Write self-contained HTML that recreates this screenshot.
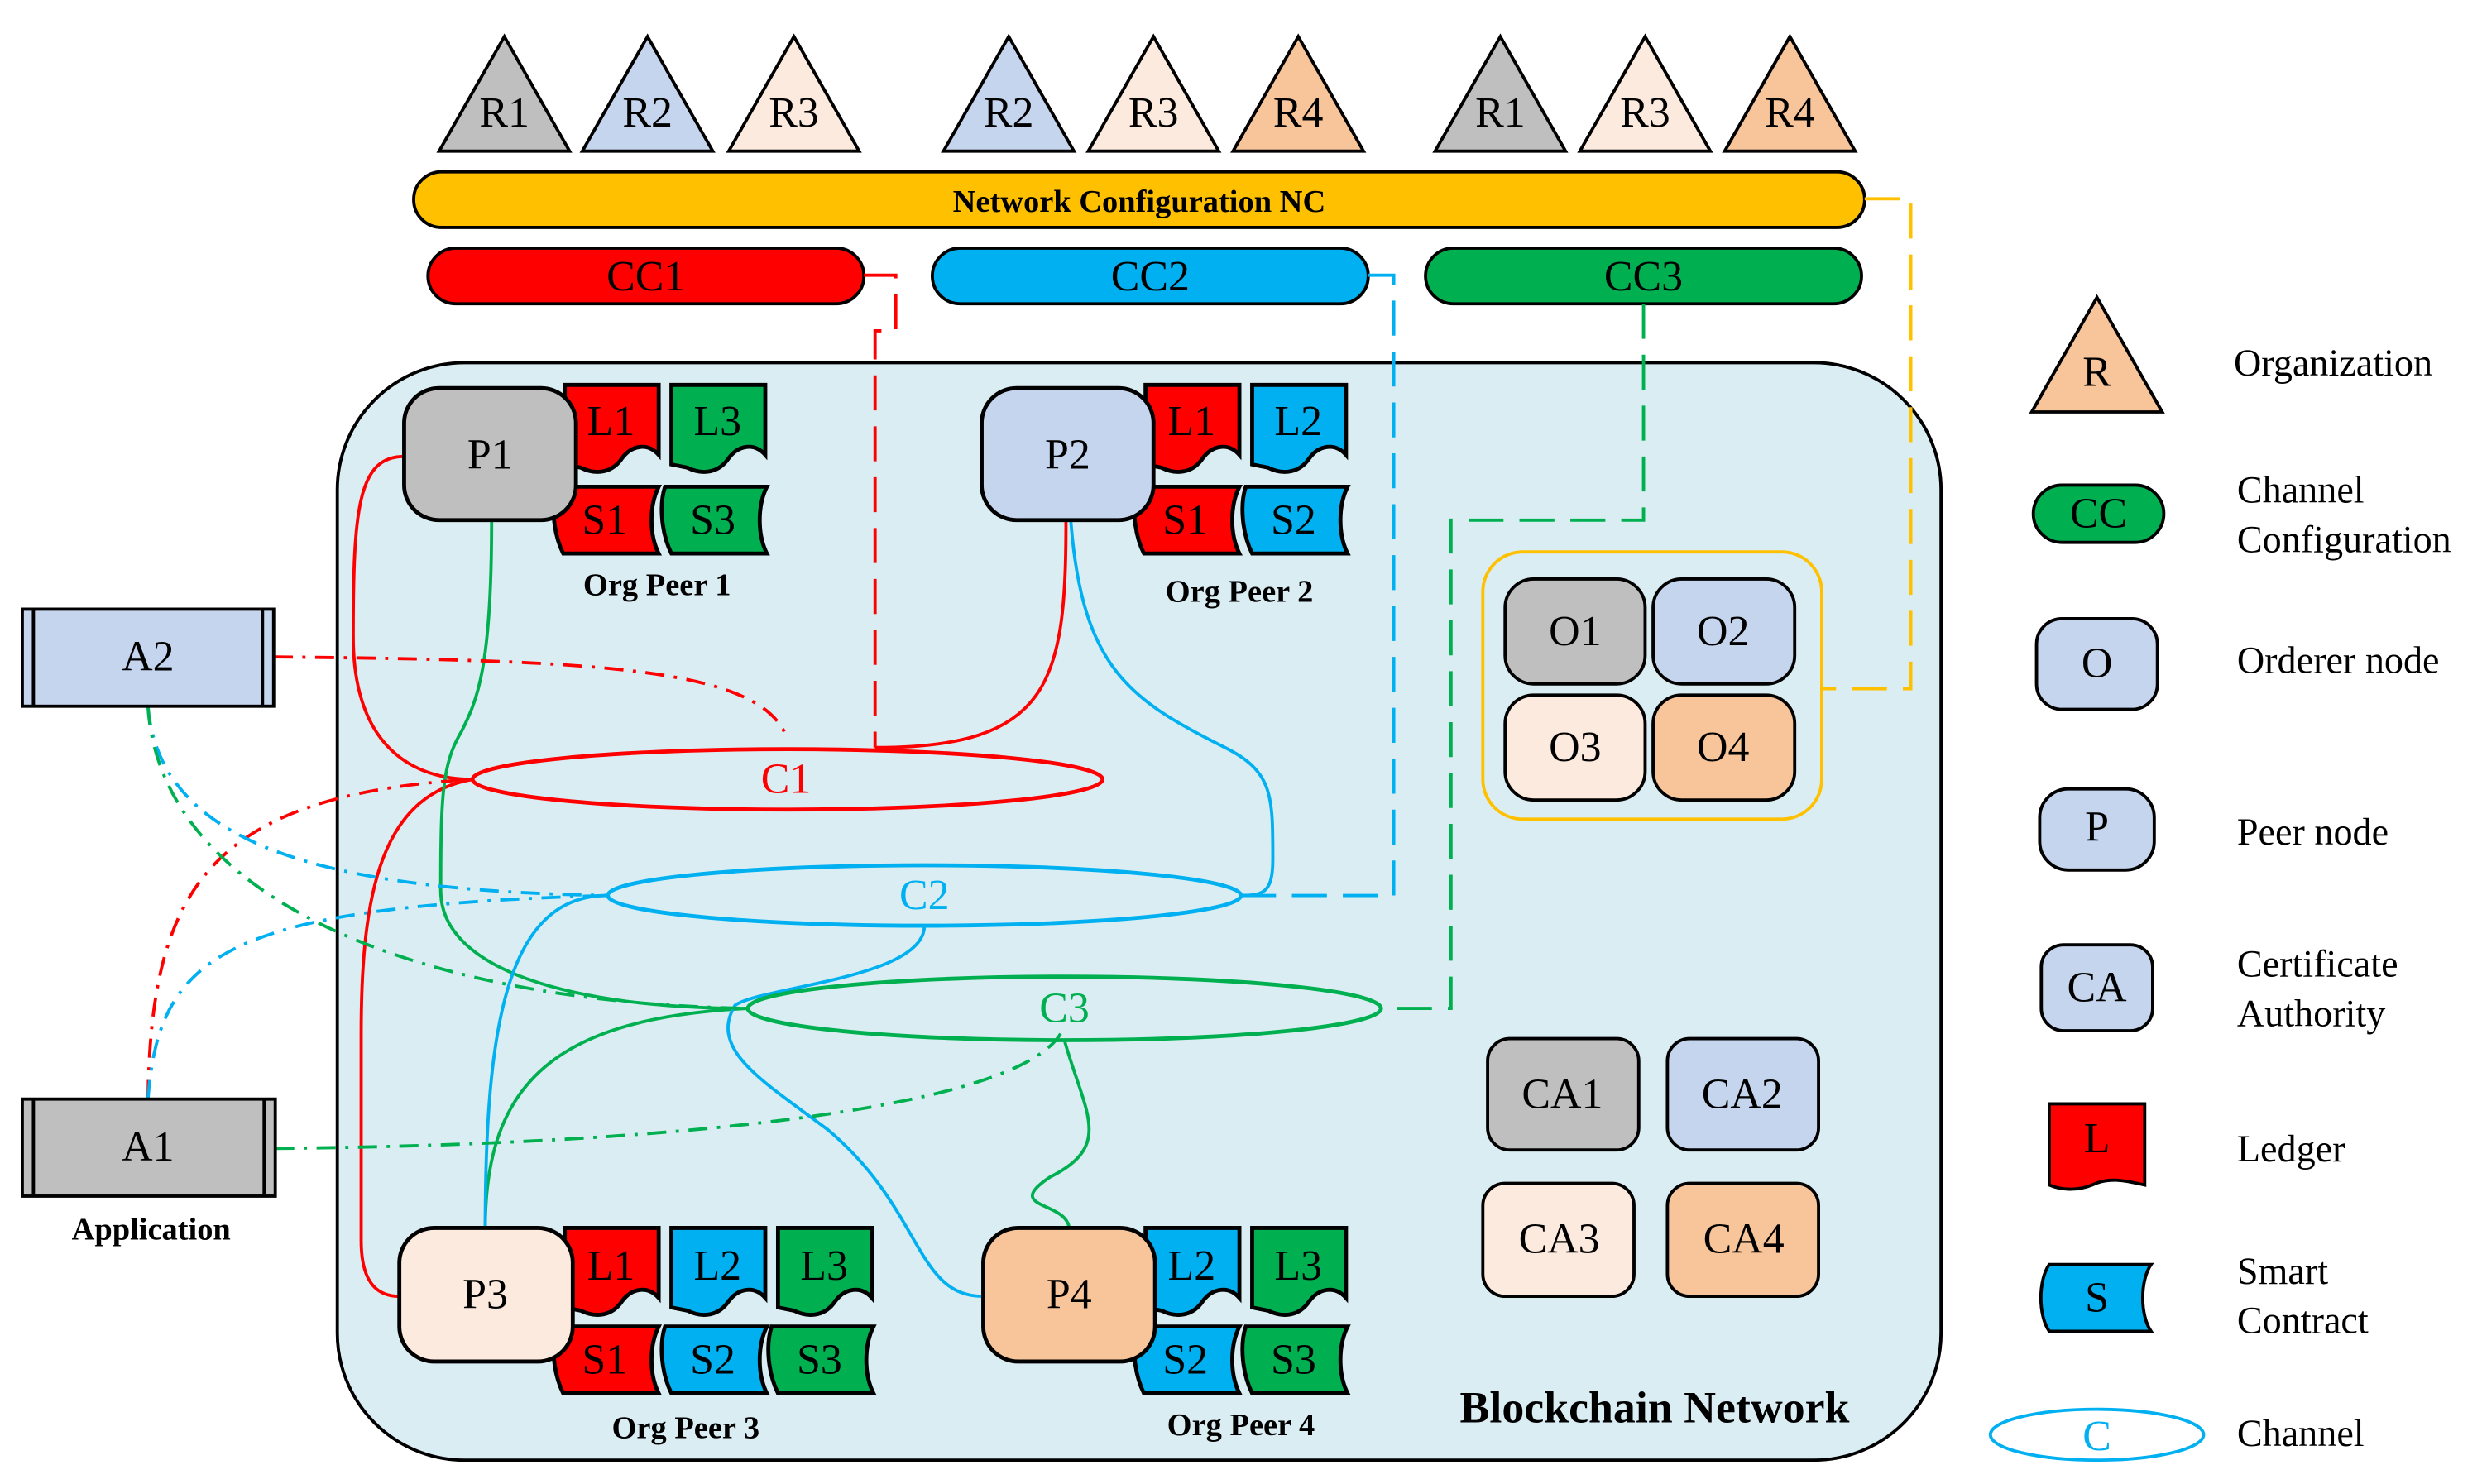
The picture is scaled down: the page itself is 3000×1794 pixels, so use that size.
<!DOCTYPE html>
<html><head><meta charset="utf-8"><style>
html,body{margin:0;padding:0;background:#fff;}
svg{display:block;}
svg text{font-family:"Liberation Serif","Times New Roman",serif !important;}
</style></head><body>
<svg width="3000" height="1794" viewBox="0 0 1560 933" preserveAspectRatio="none" xmlns="http://www.w3.org/2000/svg" font-family="Liberation Serif, Times New Roman, serif">
<defs>
<path id="L" d="M0,0 H59 V44 C52,36 42,38 36,46 C30,55 20,57 10,52 L0,50 Z" stroke="#000" stroke-width="2.5"/>
<path id="S" d="M4,0 H68 C62,12 62,30 68,42 H8 C2,30 0,12 4,0 Z" stroke="#000" stroke-width="2.5"/>
<polygon id="T" points="0,72 41,0 82,72" stroke="#000" stroke-width="2"/>
</defs>
<g font-size="27" text-anchor="middle" dominant-baseline="central" font-family="Liberation Serif, serif">
<use href="#T" x="276" y="23" fill="#bfbfbf"/><text x="317" y="71">R1</text>
<use href="#T" x="366" y="23" fill="#c5d5ee"/><text x="407" y="71">R2</text>
<use href="#T" x="458" y="23" fill="#fdeade"/><text x="499" y="71">R3</text>
<use href="#T" x="593" y="23" fill="#c5d5ee"/><text x="634" y="71">R2</text>
<use href="#T" x="684" y="23" fill="#fdeade"/><text x="725" y="71">R3</text>
<use href="#T" x="775" y="23" fill="#f8c59a"/><text x="816" y="71">R4</text>
<use href="#T" x="902" y="23" fill="#bfbfbf"/><text x="943" y="71">R1</text>
<use href="#T" x="993" y="23" fill="#fdeade"/><text x="1034" y="71">R3</text>
<use href="#T" x="1084" y="23" fill="#f8c59a"/><text x="1125" y="71">R4</text>

<rect x="260" y="108" width="912" height="35" rx="17.5" fill="#ffc000" stroke="#000" stroke-width="2"/>
<text x="716" y="127" font-size="20" font-weight="bold">Network Configuration NC</text>
<rect x="269" y="156" width="274" height="35" rx="17.5" fill="#ff0000" stroke="#000" stroke-width="2"/><text x="406" y="174">CC1</text>
<rect x="586" y="156" width="274" height="35" rx="17.5" fill="#00b0f0" stroke="#000" stroke-width="2"/><text x="723" y="174">CC2</text>
<rect x="896" y="156" width="274" height="35" rx="17.5" fill="#00b050" stroke="#000" stroke-width="2"/><text x="1033" y="174">CC3</text>

<rect x="212" y="228" width="1008" height="690" rx="80" fill="#daedf3" stroke="#000" stroke-width="2"/>

<g fill="none" stroke-width="2" stroke-dasharray="22,10">
<path d="M543,173 H563 V208 H550 V470" stroke="#ff0000"/>
<path d="M860,173 H876 V563 H781" stroke="#00b0f0"/>
<path d="M1033,191 V327 H912 V634 H868" stroke="#00b050"/>
<path d="M1172,125 H1201 V433 H1145" stroke="#ffc000"/>
</g>

<g fill="none" stroke-width="2">
<path d="M254,287 C225,287 222,320 222,400 C222,470 260,490 297,490" stroke="#ff0000"/>
<path d="M297,490 C240,500 227,560 227,650 L227,780 C227,810 240,815 251,815" stroke="#ff0000"/>
<path d="M670,327 C670,430 660,470 550,470" stroke="#ff0000"/>
<path d="M309,327 C309,420 300,440 290,460 C278,480 277,500 277,560 C277,610 360,634 470,634" stroke="#00b050"/>
<path d="M470,634 C350,640 305,680 305,772" stroke="#00b050"/>
<path d="M382,563 C320,563 305,640 305,772" stroke="#00b0f0"/>
<path d="M673,327 C680,420 710,440 770,470 C800,485 800,500 800,540 C800,560 795,563 781,563" stroke="#00b0f0"/>
<path d="M581,582 C581,615 480,620 462,632 C445,660 480,680 520,710 C580,760 575,815 618,815" stroke="#00b0f0"/>
<path d="M669,654 C682,700 700,720 660,740 C630,760 670,755 672,772" stroke="#00b050"/>
</g>
<g fill="none" stroke-width="2" stroke-dasharray="12,6,2,6">
<path d="M172,413 C380,415 480,420 495,465" stroke="#ff0000"/>
<path d="M93,691 C95,560 130,500 297,490" stroke="#ff0000"/>
<path d="M93,444 C100,530 200,560 382,563" stroke="#00b0f0"/>
<path d="M93,691 C100,600 140,570 382,563" stroke="#00b0f0"/>
<path d="M93,444 C100,560 250,630 470,634" stroke="#00b050"/>
<path d="M173,722 C400,720 650,700 669,645" stroke="#00b050"/>
</g>

<ellipse cx="495" cy="490" rx="198" ry="19" fill="none" stroke="#ff0000" stroke-width="2.5"/><text x="494" y="490" fill="#ff0000">C1</text>
<ellipse cx="581" cy="563" rx="199" ry="19" fill="none" stroke="#00b0f0" stroke-width="2.5"/><text x="581" y="563" fill="#00b0f0">C2</text>
<ellipse cx="669" cy="634" rx="199" ry="20" fill="none" stroke="#00b050" stroke-width="2.5"/><text x="669" y="634" fill="#00b050">C3</text>

<use href="#L" x="355" y="242" fill="#ff0000"/><text x="384" y="265">L1</text>
<use href="#L" x="422" y="242" fill="#00b050"/><text x="451" y="265">L3</text>
<use href="#S" x="346" y="306" fill="#ff0000"/><text x="380" y="327">S1</text>
<use href="#S" x="414" y="306" fill="#00b050"/><text x="448" y="327">S3</text>
<rect x="254" y="244" width="108" height="83" rx="22" fill="#bfbfbf" stroke="#000" stroke-width="2.5"/><text x="308" y="286">P1</text>
<text x="413" y="368" font-size="20" font-weight="bold">Org Peer 1</text>

<use href="#L" x="720" y="242" fill="#ff0000"/><text x="749" y="265">L1</text>
<use href="#L" x="787" y="242" fill="#00b0f0"/><text x="816" y="265">L2</text>
<use href="#S" x="711" y="306" fill="#ff0000"/><text x="745" y="327">S1</text>
<use href="#S" x="779" y="306" fill="#00b0f0"/><text x="813" y="327">S2</text>
<rect x="617" y="244" width="108" height="83" rx="22" fill="#c5d5ee" stroke="#000" stroke-width="2.5"/><text x="671" y="286">P2</text>
<text x="779" y="372" font-size="20" font-weight="bold">Org Peer 2</text>

<use href="#L" x="355" y="772" fill="#ff0000"/><text x="384" y="796">L1</text>
<use href="#L" x="422" y="772" fill="#00b0f0"/><text x="451" y="796">L2</text>
<use href="#L" x="489" y="772" fill="#00b050"/><text x="518" y="796">L3</text>
<use href="#S" x="346" y="834" fill="#ff0000"/><text x="380" y="855">S1</text>
<use href="#S" x="414" y="834" fill="#00b0f0"/><text x="448" y="855">S2</text>
<use href="#S" x="481" y="834" fill="#00b050"/><text x="515" y="855">S3</text>
<rect x="251" y="772" width="109" height="84" rx="22" fill="#fdeade" stroke="#000" stroke-width="2.5"/><text x="305" y="814">P3</text>
<text x="431" y="898" font-size="20" font-weight="bold">Org Peer 3</text>

<use href="#L" x="720" y="772" fill="#00b0f0"/><text x="749" y="796">L2</text>
<use href="#L" x="787" y="772" fill="#00b050"/><text x="816" y="796">L3</text>
<use href="#S" x="711" y="834" fill="#00b0f0"/><text x="745" y="855">S2</text>
<use href="#S" x="779" y="834" fill="#00b050"/><text x="813" y="855">S3</text>
<rect x="618" y="772" width="108" height="84" rx="22" fill="#f8c59a" stroke="#000" stroke-width="2.5"/><text x="672" y="814">P4</text>
<text x="780" y="896" font-size="20" font-weight="bold">Org Peer 4</text>

<rect x="932" y="347" width="213" height="168" rx="25" fill="none" stroke="#ffc000" stroke-width="2"/>
<rect x="946" y="364" width="88" height="66" rx="18" fill="#bfbfbf" stroke="#000" stroke-width="2"/><text x="990" y="397">O1</text>
<rect x="1039" y="364" width="89" height="66" rx="18" fill="#c5d5ee" stroke="#000" stroke-width="2"/><text x="1083" y="397">O2</text>
<rect x="946" y="437" width="88" height="66" rx="18" fill="#fdeade" stroke="#000" stroke-width="2"/><text x="990" y="470">O3</text>
<rect x="1039" y="437" width="89" height="66" rx="18" fill="#f8c59a" stroke="#000" stroke-width="2"/><text x="1083" y="470">O4</text>

<rect x="935" y="653" width="95" height="70" rx="14" fill="#bfbfbf" stroke="#000" stroke-width="2"/><text x="982" y="688">CA1</text>
<rect x="1048" y="653" width="95" height="70" rx="14" fill="#c5d5ee" stroke="#000" stroke-width="2"/><text x="1095" y="688">CA2</text>
<rect x="932" y="744" width="95" height="71" rx="14" fill="#fdeade" stroke="#000" stroke-width="2"/><text x="980" y="779">CA3</text>
<rect x="1048" y="744" width="95" height="71" rx="14" fill="#f8c59a" stroke="#000" stroke-width="2"/><text x="1096" y="779">CA4</text>

<text x="1040" y="885" font-size="28" font-weight="bold">Blockchain Network</text>

<rect x="14" y="383" width="158" height="61" fill="#c5d5ee" stroke="#000" stroke-width="2"/>
<line x1="21" y1="383" x2="21" y2="444" stroke="#000" stroke-width="2"/><line x1="165" y1="383" x2="165" y2="444" stroke="#000" stroke-width="2"/>
<text x="93" y="413">A2</text>
<rect x="14" y="691" width="159" height="61" fill="#bfbfbf" stroke="#000" stroke-width="2"/>
<line x1="21" y1="691" x2="21" y2="752" stroke="#000" stroke-width="2"/><line x1="166" y1="691" x2="166" y2="752" stroke="#000" stroke-width="2"/>
<text x="93" y="721">A1</text>
<text x="95" y="773" font-size="20" font-weight="bold">Application</text>

<polygon points="1277,259 1318,187 1359,259" fill="#f8c59a" stroke="#000" stroke-width="2"/><text x="1318" y="234">R</text>
<rect x="1278" y="305" width="82" height="36" rx="18" fill="#00b050" stroke="#000" stroke-width="2"/><text x="1319" y="323">CC</text>
<rect x="1280" y="389" width="76" height="57" rx="16" fill="#c5d5ee" stroke="#000" stroke-width="2"/><text x="1318" y="417">O</text>
<rect x="1282" y="496" width="72" height="51" rx="18" fill="#c5d5ee" stroke="#000" stroke-width="2"/><text x="1318" y="520">P</text>
<rect x="1283" y="594" width="70" height="54" rx="14" fill="#c5d5ee" stroke="#000" stroke-width="2"/><text x="1318" y="621">CA</text>
<path d="M1288,694 H1348 V745 C1335,742 1325,740 1315,745 C1305,749 1295,748 1288,745 Z" fill="#ff0000" stroke="#000" stroke-width="2"/><text x="1318" y="716">L</text>
<path d="M1288,795 H1352 C1345,805 1345,827 1352,837 H1288 C1281,827 1281,805 1288,795 Z" fill="#00b0f0" stroke="#000" stroke-width="2"/><text x="1318" y="816">S</text>
<ellipse cx="1318" cy="902" rx="67" ry="16" fill="none" stroke="#00b0f0" stroke-width="2"/><text x="1318" y="903" fill="#00b0f0">C</text>
<g text-anchor="start" font-size="24">
<text x="1404" y="228">Organization</text>
<text x="1406" y="308">Channel</text><text x="1406" y="339">Configuration</text>
<text x="1406" y="415">Orderer node</text>
<text x="1406" y="523">Peer node</text>
<text x="1406" y="606">Certificate</text><text x="1406" y="637">Authority</text>
<text x="1406" y="722">Ledger</text>
<text x="1406" y="799">Smart</text><text x="1406" y="830">Contract</text>
<text x="1406" y="901">Channel</text>
</g>
</g>
</svg>
</body></html>
